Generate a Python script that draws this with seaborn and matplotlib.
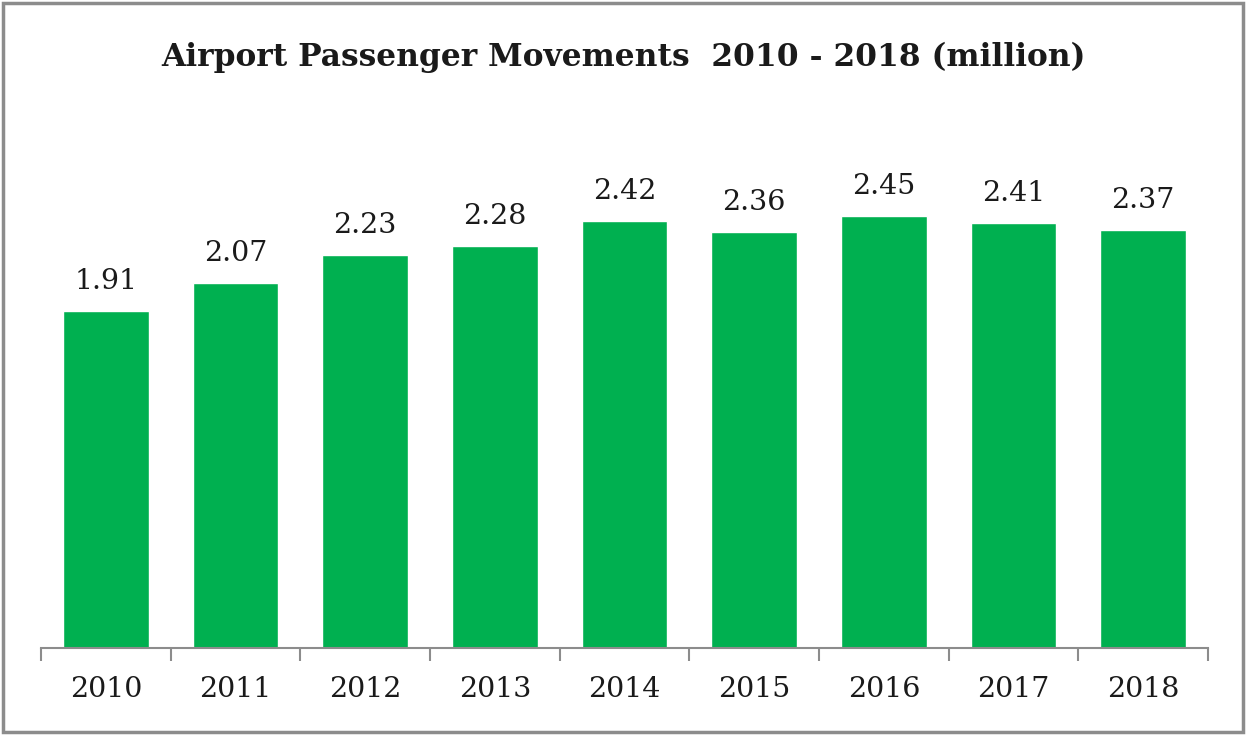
import matplotlib
matplotlib.use("Agg")
import matplotlib.pyplot as plt
import seaborn as sns
import pandas as pd
from matplotlib.patches import Rectangle

years = ["2010", "2011", "2012", "2013", "2014", "2015", "2016", "2017", "2018"]
passengers = [1.91, 2.07, 2.23, 2.28, 2.42, 2.36, 2.45, 2.41, 2.37]

df = pd.DataFrame({"year": years, "passengers": passengers})

sns.set_style("white")
plt.rcParams["font.family"] = ["DejaVu Serif"]

fig = plt.figure(figsize=(12.47, 7.35), dpi=100)
ax = fig.add_axes([41 / 1247, 87 / 735, 1167 / 1247, 529 / 735])

sns.barplot(data=df, x="year", y="passengers", color="#00B050",
            saturation=1, width=0.66, ax=ax)

for i, v in enumerate(passengers):
    ax.text(i, v + 0.09, f"{v:.2f}", ha="center", va="bottom", fontsize=20.5, color="#1a1a1a")

ax.set_ylim(0, 3)
ax.set_xlim(-0.5, len(years) - 0.5)
ax.set_xlabel("")
ax.set_ylabel("")
ax.set_yticks([])
ax.set_xticks([])
for s in ["top", "left", "right"]:
    ax.spines[s].set_visible(False)
ax.spines["bottom"].set_color("#8c8c8c")
ax.spines["bottom"].set_linewidth(1.5)

# category boundary ticks
ax.set_xticks([i - 0.5 for i in range(len(years) + 1)], minor=True)
ax.tick_params(axis="x", which="minor", bottom=True, length=9, width=1.5,
               color="#8c8c8c", direction="out")
for i, y in enumerate(years):
    ax.text(i, -0.16, y, ha="center", va="top", fontsize=20.5, color="#1a1a1a",
            transform=ax.transData)

fig.text(0.5, 0.922, "Airport Passenger Movements  2010 - 2018 (million)",
         ha="center", va="center", fontsize=22.5, fontweight="bold", color="#1a1a1a")

fig.patches.append(Rectangle((3 / 1247, 3 / 735), 1240 / 1247, 729 / 735,
                             transform=fig.transFigure, fill=False,
                             edgecolor="#8c8c8c", linewidth=2.5))

fig.savefig("out.png", dpi=100)
